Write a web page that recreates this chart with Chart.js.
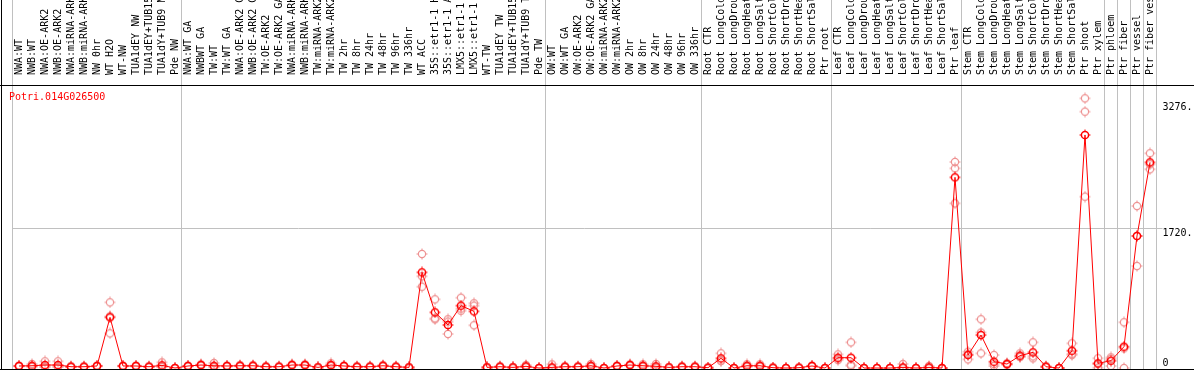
<!DOCTYPE html>
<html>
<head>
<meta charset="utf-8">
<script src="https://cdn.jsdelivr.net/npm/chart.js@4.4.1/dist/chart.umd.min.js"></script>
<style>
  body { margin: 0; background: #fff; }
  #wrap { position: relative; width: 1194px; height: 370px; overflow: hidden; }
  #gene { position: absolute; left: 9px; top: 91px; font: 10px "DejaVu Sans Mono", monospace; line-height: 12px; color: #ff0000; }
</style>
</head>
<body>
<div id="wrap">
  <canvas id="efpChart" width="1194" height="370"></canvas>
  <div id="gene">Potri.014G026500</div>
</div>
<script>
// sample names, one per column
const samples = [
  'NWA:WT', 'NWB:WT', 'NWA:OE-ARK2', 'NWB:OE-ARK2', 'NWA:miRNA-ARK2', 'NWB:miRNA-ARK2',
  'NW 0hr', 'WT H2O', 'WT-NW', 'TUA1dEY NW', 'TUA1dEY+TUB15 NW', 'TUA1dY+TUB9 NW', 'Pde NW',
  'NWA:WT GA', 'NWBWT GA', 'TW:WT', 'TW:WT GA', 'NWA:OE-ARK2 GA', 'NWB:OE-ARK2 GA',
  'TW:OE-ARK2', 'TW:OE-ARK2 GA', 'NWA:miRNA-ARK2', 'NWB:miRNA-ARK2', 'TW:miRNA-ARK2', 'TW:miRNA-ARK2',
  'TW 2hr', 'TW 8hr', 'TW 24hr', 'TW 48hr', 'TW 96hr', 'TW 336hr', 'WT ACC',
  '35S::etr1-1 H2O', '35S::etr1-1 ACC', 'LMX5::etr1-1 H2O', 'LMX5::etr1-1 ACC',
  'WT-TW', 'TUA1dEY TW', 'TUA1dEY+TUB15 TW', 'TUA1dY+TUB9 TW', 'Pde TW',
  'OW:WT', 'OW:WT GA', 'OW:OE-ARK2', 'OW:OE-ARK2 GA', 'OW:miRNA-ARK2', 'OW:miRNA-ARK2',
  'OW 2hr', 'OW 8hr', 'OW 24hr', 'OW 48hr', 'OW 96hr', 'OW 336hr',
  'Root CTR', 'Root LongCold', 'Root LongDrought', 'Root LongHeat', 'Root LongSalt',
  'Root ShortCold', 'Root ShortDrought', 'Root ShortHeat', 'Root ShortSalt', 'Ptr root',
  'Leaf CTR', 'Leaf LongCold', 'Leaf LongDrought', 'Leaf LongHeat', 'Leaf LongSalt',
  'Leaf ShortCold', 'Leaf ShortDrought', 'Leaf ShortHeat', 'Leaf ShortSalt', 'Ptr leaf',
  'Stem CTR', 'Stem LongCold', 'Stem LongDrought', 'Stem LongHeat', 'Stem LongSalt',
  'Stem ShortCold', 'Stem ShortDrought', 'Stem ShortHeat', 'Stem ShortSalt', 'Ptr shoot',
  'Ptr xylem', 'Ptr phloem', 'Ptr fiber', 'Ptr vessel', 'Ptr fiber vessel'
];

// how many samples in each experiment block (separated by grey lines)
const groupSizes = [13, 28, 12, 10, 10, 11, 1, 1, 1, 1];

// mean expression per sample
const meanValues = [
  25, 28, 37, 37, 16, 16, 25, 624, 25, 25, 16, 33, 0,
  25, 37, 28, 25, 28, 28, 16, 16, 37, 37, 8, 37, 25, 16, 16, 28, 16, 8,
  1178, 686, 530, 768, 698, 8, 16, 8, 21, 0,
  8, 16, 16, 28, 0, 25, 37, 28, 21, 8, 16, 16,
  4, 119, 0, 28, 28, 4, 0, 4, 25, 0,
  127, 127, 0, 0, 0, 8, 0, 8, 0, 2348,
  160, 406, 78, 49, 152, 193, 16, 0, 213, 2870, 58,
  90, 263, 1626, 2533
];

// individual replicates
const rep1 = [
  30, 49, 82, 82, 20, 20, 30, 809, 30, 30, 20, 70, 0,
  30, 45, 62, 30, 35, 35, 20, 20, 45, 45, 10, 58, 30, 20, 20, 35, 20, 10,
  1404, 846, 600, 866, 797, 10, 20, 10, 37, 0,
  45, 20, 20, 49, 0, 30, 45, 45, 49, 10, 20, 20,
  6, 181, 0, 45, 45, 6, 0, 6, 30, 0,
  168, 316, 0, 0, 0, 49, 0, 25, 0, 2537,
  201, 600, 160, 60, 181, 316, 20, 0, 304, 3321, 120,
  131, 563, 1995, 2644
];
const rep2 = [
  20, 15, 15, 15, 12, 12, 20, 427, 20, 20, 12, 15, 0,
  20, 30, 12, 20, 22, 22, 12, 12, 30, 30, 6, 28, 20, 12, 12, 22, 12, 6,
  1001, 612, 419, 706, 768, 6, 12, 6, 13, 0,
  0, 12, 12, 18, 0, 20, 30, 20, 7, 6, 12, 12,
  2, 90, 0, 20, 20, 2, 0, 2, 20, 0,
  98, 25, 0, 0, 0, 0, 0, 0, 0, 2459,
  107, 181, 25, 40, 140, 119, 12, 0, 160, 3157, 50,
  25, 242, 1256, 2447
];
const rep3 = [
  25, 20, 14, 14, 16, 16, 25, 636, 25, 25, 16, 14, 0,
  25, 36, 10, 25, 27, 27, 16, 16, 36, 36, 8, 25, 25, 16, 16, 27, 16, 8,
  1130, 600, 571, 732, 526, 8, 16, 8, 13, 0,
  0, 16, 16, 17, 0, 25, 36, 19, 7, 8, 16, 16,
  4, 86, 0, 19, 19, 4, 0, 4, 25, 0,
  115, 40, 0, 0, 0, 0, 0, 0, 0, 2028,
  172, 437, 49, 47, 135, 144, 16, 0, 175, 2110, 4,
  114, 0, 1627, 2508
];

// right-hand axis ticks
const yTicks = [0, 1720, 3276];

const fontMono = '"DejaVu Sans Mono", monospace';
const grey = 'rgb(192,192,192)';

// ring marker with small spikes, like the original eFP plot
function makeMarker(color, width) {
  const c = document.createElement('canvas');
  c.width = 12; c.height = 12;
  const g = c.getContext('2d');
  g.strokeStyle = color;
  g.lineWidth = width;
  g.beginPath();
  g.arc(6, 6, 3.6, 0, Math.PI * 2);
  g.stroke();
  g.lineWidth = 1;
  g.beginPath();
  g.moveTo(6, 0.5); g.lineTo(6, 2);
  g.moveTo(6, 10); g.lineTo(6, 11.5);
  g.moveTo(0.5, 6); g.lineTo(2, 6);
  g.moveTo(10, 6); g.lineTo(11.5, 6);
  g.stroke();
  return c;
}
const meanMarker = makeMarker('#ff0000', 1.5);
const repMarker = makeMarker('rgb(238,145,145)', 1.2);

const framePlugin = {
  id: 'frame',
  beforeDraw(chart) {
    const ctx = chart.ctx;
    const x = chart.scales.x;
    const step = x.getPixelForValue(1) - x.getPixelForValue(0);
    ctx.save();
    ctx.fillStyle = grey;
    let idx = 0;
    const edges = [0];
    groupSizes.forEach(n => { idx += n; edges.push(idx); });
    edges.forEach(k => {
      const px = Math.round(x.getPixelForValue(0) - step / 2 + k * step) - 1;
      ctx.fillRect(px, 0, 1, chart.chartArea.bottom);
    });
    ctx.restore();
  },
  afterDraw(chart) {
    const ctx = chart.ctx;
    ctx.save();
    ctx.fillStyle = '#000';
    ctx.fillRect(0, chart.chartArea.top, chart.width, 1);
    ctx.fillRect(1, 0, 1, chart.height);
    ctx.fillRect(0, chart.chartArea.bottom, chart.width, 1);
    ctx.restore();
  }
};

const repSet = (data) => ({
  data: data,
  showLine: false,
  pointStyle: repMarker,
  pointRadius: 6,
  clip: false
});

new Chart(document.getElementById('efpChart').getContext('2d'), {
  type: 'line',
  data: {
    labels: samples,
    datasets: [
      {
        data: meanValues,
        borderColor: '#ff0000',
        borderWidth: 1,
        tension: 0,
        pointStyle: meanMarker,
        pointRadius: 6,
        clip: false
      },
      repSet(rep1),
      repSet(rep2),
      repSet(rep3)
    ]
  },
  options: {
    responsive: false,
    animation: false,
    devicePixelRatio: 1,
    layout: { autoPadding: false, padding: { left: 12.5, right: 0, top: 0, bottom: 1 } },
    plugins: { legend: { display: false }, tooltip: { enabled: false } },
    scales: {
      x: {
        type: 'category',
        position: 'top',
        offset: true,
        grid: { display: false },
        border: { display: false },
        ticks: {
          autoSkip: false,
          minRotation: 90,
          maxRotation: 90,
          padding: 2,
          labelOffset: 12,
          color: '#000',
          font: { family: fontMono, size: 10 }
        },
        afterFit(scale) {
          scale.height = 85;
          scale.paddingLeft = 0;
          scale.paddingRight = 0;
        }
      },
      y: {
        position: 'right',
        min: -12,
        max: 3485,
        afterBuildTicks(scale) { scale.ticks = yTicks.map(v => ({ value: v })); },
        grid: {
          color: c => (c.tick && c.tick.value === 1720) ? grey : 'rgba(0,0,0,0)',
          tickLength: 6
        },
        border: { display: false },
        ticks: {
          padding: 0,
          color: '#000',
          font: { family: fontMono, size: 10, lineHeight: 1 },
          callback: v => v === 0 ? ['0', ''] : ['', v + '.']
        },
        afterFit(scale) {
          scale.width = 37.5;
          scale.paddingTop = 0;
          scale.paddingBottom = 0;
        }
      }
    }
  },
  plugins: [framePlugin]
});
</script>
</body>
</html>
